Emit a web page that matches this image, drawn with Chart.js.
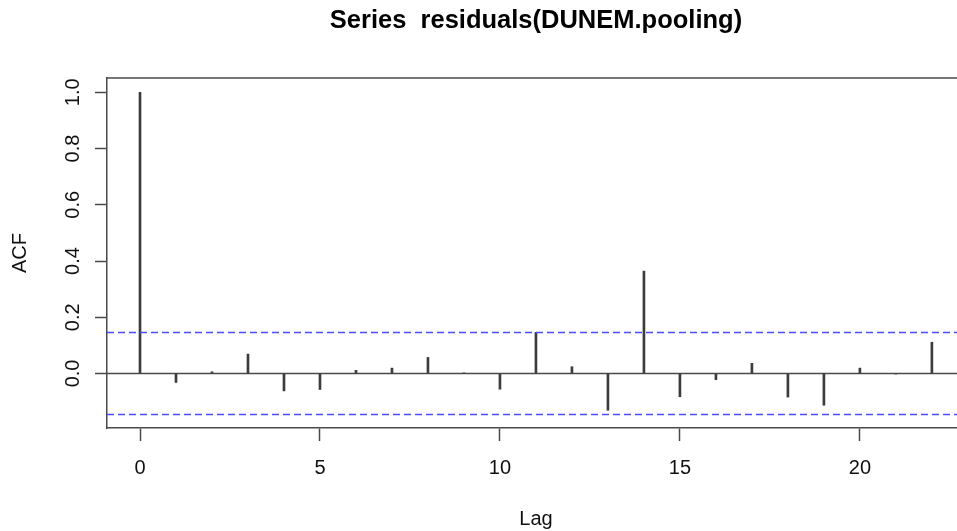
<!DOCTYPE html>
<html>
<head>
<meta charset="utf-8">
<title>Series residuals(DUNEM.pooling)</title>
<script src="https://cdn.jsdelivr.net/npm/chart.js@4/dist/chart.umd.min.js"></script>
<style>
  html, body { margin: 0; padding: 0; background: #fff; overflow: hidden; }
  #wrap { width: 957px; height: 531px; overflow: hidden; }
</style>
</head>
<body>
<div id="wrap"><canvas id="acf" width="1072" height="531"></canvas></div>
<script>
// ACF of the residuals, lag 0..22
const lags = [0, 1, 2, 3, 4, 5, 6, 7, 8, 9, 10, 11, 12, 13, 14, 15, 16, 17, 18, 19, 20, 21, 22];
const acfValues = [1.0, -0.032, 0.006, 0.069, -0.062, -0.057, 0.011, 0.019, 0.057, 0.002, -0.056,
  0.146, 0.024, -0.131, 0.364, -0.083, -0.022, 0.036, -0.084, -0.113, 0.019, -0.002, 0.111];
const ciBounds = [0.146, -0.146];
const xTickValues = [0, 5, 10, 15, 20];
const yTickValues = [0.0, 0.2, 0.4, 0.6, 0.8, 1.0];
const xRange = [-0.917, 22.92];
const yRange = [-0.194, 1.051];

const FONT = '"Liberation Sans", Arial, sans-serif';
const AXIS_COLOR = '#4a4a4a';

const hline = (v) => [{x: xRange[0], y: v}, {x: xRange[1], y: v}];

// R draws a box; chart.js axes give left and bottom, add the top edge
const topEdge = {
  id: 'topEdge',
  afterDraw(chart) {
    const {ctx, chartArea} = chart;
    ctx.save();
    ctx.strokeStyle = AXIS_COLOR;
    ctx.lineWidth = 1.5;
    ctx.beginPath();
    ctx.moveTo(chartArea.left - 0.75, chartArea.top);
    ctx.lineTo(chartArea.right + 1, chartArea.top);
    ctx.stroke();
    ctx.restore();
  },
};

new Chart(document.getElementById('acf'), {
  type: 'bar',
  data: {
    datasets: [
      {
        label: 'ACF',
        xAxisID: 'x',
        yAxisID: 'y',
        data: lags.map((l, i) => ({x: l, y: acfValues[i]})),
        backgroundColor: '#3c3c3c',
        barThickness: 2,
        grouped: false,
        order: 1,
      },
      {
        type: 'line',
        label: 'zero',
        xAxisID: 'x',
        yAxisID: 'y',
        data: hline(0),
        borderColor: AXIS_COLOR,
        borderWidth: 1.5,
        pointRadius: 0,
        order: 2,
      },
      ...ciBounds.map((v) => ({
        type: 'line',
        label: 'ci',
        xAxisID: 'x',
        yAxisID: 'y',
        data: hline(v),
        borderColor: '#4b4bff',
        borderWidth: 1.5,
        borderDash: [7, 4],
        pointRadius: 0,
        order: 0,
      })),
    ],
  },
  options: {
    responsive: false,
    devicePixelRatio: 1,
    animation: false,
    events: [],
    layout: {padding: {left: 0, right: 107, top: 0, bottom: 0}},
    plugins: {
      legend: {display: false},
      tooltip: {enabled: false},
      title: {display: false},
    },
    scales: {
      x: {
        type: 'linear',
        position: 'bottom',
        offset: false,
        min: xRange[0],
        max: xRange[1],
        afterBuildTicks: (scale) => { scale.ticks = xTickValues.map((v) => ({value: v})); },
        afterFit: (scale) => { scale.height = 103; },
        grid: {offset: false, drawOnChartArea: false, drawTicks: true, tickLength: 13, tickColor: AXIS_COLOR, tickWidth: 1.5},
        border: {display: true, color: AXIS_COLOR, width: 1.5},
        ticks: {
          color: '#111',
          font: {family: FONT, size: 20},
          padding: 15,
          maxRotation: 0,
          callback: (v) => String(v),
        },
        title: {
          display: true,
          text: 'Lag',
          color: '#111',
          font: {family: FONT, size: 20, lineHeight: 1.2},
          padding: {top: 0, bottom: 0},
        },
      },
      // top axis only carries the main title, centred over the plot region like R does
      top: {
        type: 'linear',
        position: 'top',
        offset: false,
        min: xRange[0],
        max: xRange[1],
        afterFit: (scale) => { scale.height = 78; },
        grid: {display: false},
        border: {display: false},
        ticks: {display: false},
        title: {
          display: true,
          text: 'Series  residuals(DUNEM.pooling)',
          color: '#000',
          font: {family: FONT, size: 25.5, weight: 'bold', lineHeight: 1.2},
          padding: {top: 6, bottom: 0},
        },
      },
      y: {
        type: 'linear',
        min: yRange[0],
        max: yRange[1],
        afterBuildTicks: (scale) => { scale.ticks = yTickValues.map((v) => ({value: v})); },
        afterFit: (scale) => { scale.width = 107; },
        grid: {drawOnChartArea: false, drawTicks: true, tickLength: 12, tickColor: AXIS_COLOR, tickWidth: 1.5},
        border: {display: true, color: AXIS_COLOR, width: 1.5},
        ticks: {
          color: '#111',
          font: {family: FONT, size: 20},
          padding: 8,
          minRotation: 90,
          maxRotation: 90,
          crossAlign: 'center',
          callback: (v) => Number(v).toFixed(1),
        },
        title: {
          display: true,
          text: 'ACF',
          color: '#111',
          font: {family: FONT, size: 20, lineHeight: 1.2},
          padding: {top: 8, bottom: 0},
        },
      },
    },
  },
  plugins: [topEdge],
});
</script>
</body>
</html>
